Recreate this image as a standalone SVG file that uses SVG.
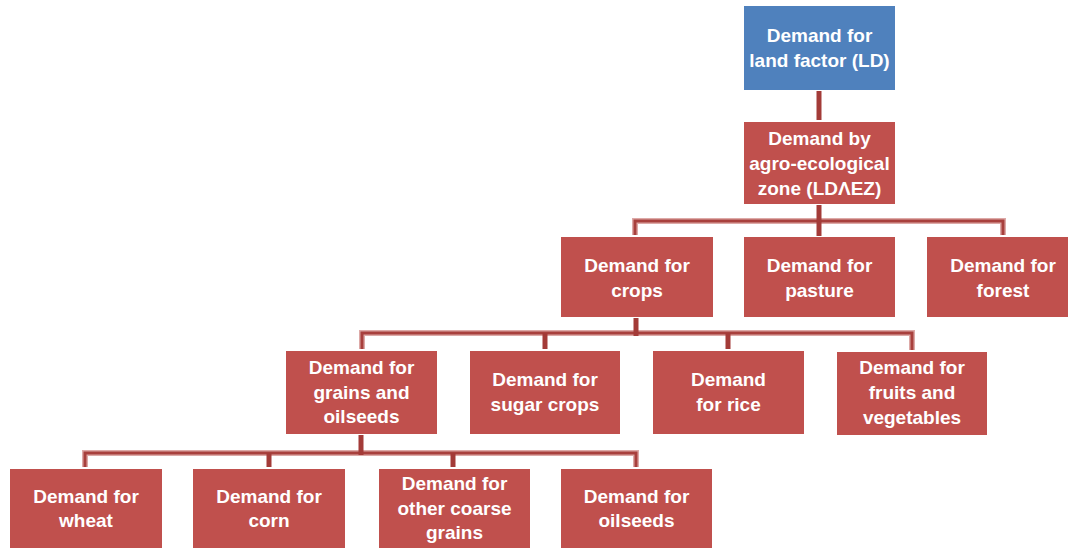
<svg xmlns="http://www.w3.org/2000/svg" width="1068" height="548" viewBox="0 0 1068 548">
<style>
.red{fill:#C0504D}
.blue{fill:#4F81BD}
text{font-family:"Liberation Sans",Arial,sans-serif;font-weight:bold;font-size:19px;fill:#FFFFFF;text-anchor:middle}
.halo{fill:none;stroke:#DDA9A7;stroke-width:6}
.line{fill:none;stroke:#A8403D;stroke-width:3}
.riser{fill:none;stroke:#A33B38;stroke-width:5}
</style>
<rect width="1068" height="548" fill="#FFFFFF"/>
<g id="connectors">
<line class="riser" x1="819" y1="91" x2="819" y2="120" stroke-width="7"/>
<path class="halo" d="M635,235 V221 H1003 V235"/>
<path class="line" d="M635,235 V221 H1003 V235"/>
<path class="riser" d="M819,205 V236"/>
<path class="halo" d="M362,349 V333 H912 V350"/>
<path class="line" d="M362,349 V333 H912 V350"/>
<path class="riser" d="M545,333 V349 M728,333 V349 M636,318 V336"/>
<path class="halo" d="M85,467 V453 H636 V467"/>
<path class="line" d="M85,467 V453 H636 V467"/>
<path class="riser" d="M269,453 V467 M453,453 V467 M361,435 V455"/>
</g>
<g id="ld"><rect class="blue" x="744" y="6" width="151" height="84"/><text x="819.5" y="42">Demand for</text><text x="819.5" y="67">land factor (LD)</text></g>
<g id="ldaez"><rect class="red" x="744" y="122" width="151" height="82"/><text x="819.5" y="145">Demand by</text><text x="819.5" y="170">agro-ecological</text><text x="819.5" y="195">zone (LDΛEZ)</text></g>
<g id="crops"><rect class="red" x="561" y="237" width="152" height="80"/><text x="637" y="272">Demand for</text><text x="637" y="297">crops</text></g>
<g id="pasture"><rect class="red" x="744" y="237" width="151" height="80"/><text x="819.5" y="272">Demand for</text><text x="819.5" y="297">pasture</text></g>
<g id="forest"><rect class="red" x="927" y="237" width="152" height="80"/><text x="1003" y="272">Demand for</text><text x="1003" y="297">forest</text></g>
<g id="grains"><rect class="red" x="286" y="351" width="151" height="83"/><text x="361.5" y="374">Demand for</text><text x="361.5" y="399">grains and</text><text x="361.5" y="423">oilseeds</text></g>
<g id="sugar"><rect class="red" x="470" y="351" width="150" height="83"/><text x="545" y="386">Demand for</text><text x="545" y="411">sugar crops</text></g>
<g id="rice"><rect class="red" x="653" y="351" width="151" height="83"/><text x="728.5" y="386">Demand</text><text x="728.5" y="411">for rice</text></g>
<g id="fruits"><rect class="red" x="837" y="352" width="150" height="83"/><text x="912" y="374">Demand for</text><text x="912" y="399">fruits and</text><text x="912" y="424">vegetables</text></g>
<g id="wheat"><rect class="red" x="10" y="469" width="152" height="83"/><text x="86" y="503">Demand for</text><text x="86" y="527">wheat</text></g>
<g id="corn"><rect class="red" x="193" y="469" width="152" height="83"/><text x="269" y="503">Demand for</text><text x="269" y="527">corn</text></g>
<g id="coarse"><rect class="red" x="379" y="469" width="151" height="83"/><text x="454.5" y="490">Demand for</text><text x="454.5" y="515">other coarse</text><text x="454.5" y="539">grains</text></g>
<g id="oilseeds"><rect class="red" x="561" y="469" width="151" height="83"/><text x="636.5" y="503">Demand for</text><text x="636.5" y="527">oilseeds</text></g>
</svg>
